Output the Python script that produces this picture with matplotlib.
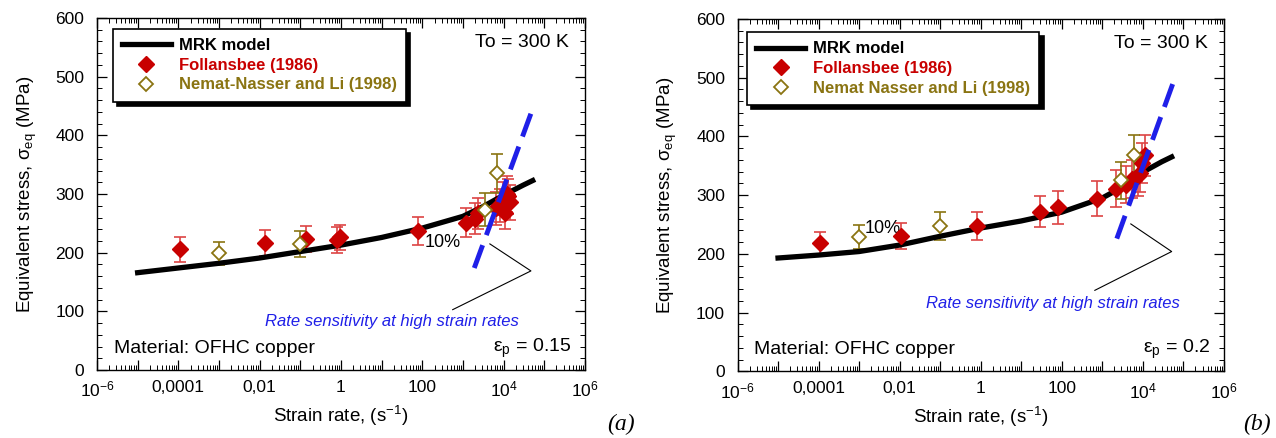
import numpy as np
import matplotlib
matplotlib.use("Agg")
import matplotlib.pyplot as plt
import matplotlib.ticker as ticker

plt.rcParams['font.family'] = ['Liberation Sans', 'DejaVu Sans']
plt.rcParams['mathtext.fontset'] = 'custom'
plt.rcParams['mathtext.rm'] = 'Liberation Sans'
plt.rcParams['mathtext.it'] = 'Liberation Sans:italic'
plt.rcParams['mathtext.bf'] = 'Liberation Sans:bold'

# --- panel (a), eps_p = 0.15 ---
curve_a_x = [1e-5, 1e-4, 1e-3, 1e-2, 1e-1, 1, 10, 100, 1000, 3000, 1e4, 3e4, 5.2e4]
curve_a_y = [166, 174, 182, 191, 202, 213, 226, 242, 262, 278, 298, 315, 323]
foll_a_x = [1.1e-4, 0.0134, 0.14, 0.8, 0.95, 78, 1200, 2000, 2300, 6500, 8000, 9500, 11000, 12000, 13000, 14500]
foll_a_y = [206, 217, 224, 222, 226, 237, 251, 258, 267, 276, 280, 292, 268, 300, 296, 286]
foll_a_e = [21, 22, 22, 22, 22, 24, 25, 26, 26, 28, 28, 28, 28, 30, 30, 30]
nn_a_x = [0.001, 0.1, 3500, 6900]
nn_a_y = [199, 215, 273, 335]
nn_a_e = [20, 22, 28, 33]
rate_a_x = [1900, 5.5e4]
rate_a_y = [174, 450]
pointer_a_x = [4600, 4.7e4, 560]
pointer_a_y = [215, 169, 103]

# --- panel (b), eps_p = 0.2 ---
curve_b_x = [1e-5, 1e-4, 1e-3, 1e-2, 1e-1, 1, 10, 100, 1000, 3000, 1e4, 3e4, 5.2e4]
curve_b_y = [193, 198, 204, 215, 230, 244, 256, 271, 295, 313, 339, 357, 365]
foll_b_x = [1.1e-4, 0.0107, 0.8, 29, 81, 750, 2200, 3800, 5400, 7600, 8500, 9500, 11200]
foll_b_y = [218, 231, 248, 272, 279, 294, 311, 318, 327, 332, 338, 355, 368]
foll_b_e = [20, 22, 24, 27, 28, 30, 31, 32, 32, 33, 33, 34, 35]
nn_b_x = [0.001, 0.1, 2900, 6200]
nn_b_y = [229, 247, 325, 368]
nn_b_e = [20, 24, 32, 35]
rate_b_x = [2300, 6.6e4]
rate_b_y = [226, 504]
pointer_b_x = [5100, 5.2e4, 660]
pointer_b_y = [251, 204, 138]

xtick_labels = {1e-6: r'10$^{-6}$', 1e-4: '0,0001', 1e-2: '0,01', 1: '1',
                100: '100', 1e4: r'10$^{4}$', 1e6: r'10$^{6}$'}

RED = '#c80000'
RED_ERR = '#dd4444'
OLIVE = '#8a7412'
BLUE = '#1f1fe8'


def fmt(v, pos):
    for k, s in xtick_labels.items():
        if abs(np.log10(v) - np.log10(k)) < 1e-6:
            return s
    return ''


def panel(ax, cx, cy, fx, fy, fe, nx, ny, ne, rx, ry, px, py,
          eps_txt, ten_xy, rate_xy, nn_label, leg_anchor):
    ax.set_xscale('log')
    ax.set_xlim(1e-6, 1e6)
    ax.set_ylim(0, 600)

    ax.errorbar(fx, fy, yerr=fe, fmt='none', ecolor=RED_ERR, elinewidth=1.2,
                capsize=4, capthick=1.2, zorder=3)
    ax.errorbar(nx, ny, yerr=ne, fmt='none', ecolor=OLIVE, elinewidth=1.2,
                capsize=4, capthick=1.2, zorder=3)
    ax.plot(cx, cy, color='black', lw=3.8, label='MRK model', zorder=4)
    ax.plot(fx, fy, 'D', color=RED, ms=8.5, ls='none', label='Follansbee (1986)', zorder=5)
    ax.plot(nx, ny, 'D', mfc='white', mec=OLIVE, mew=1.3, ms=7.5, ls='none',
            label=nn_label, zorder=5)
    ax.plot(rx, ry, color=BLUE, lw=3.5, dashes=(5, 2.2), zorder=6)
    ax.plot(px, py, color='black', lw=0.8, zorder=2)

    ax.text(ten_xy[0], ten_xy[1], '10%', fontsize=13, ha='left', va='center')
    ax.text(rate_xy[0], rate_xy[1], 'Rate sensitivity at high strain rates',
            fontsize=12, color=BLUE, style='italic', ha='center', va='center')
    ax.text(0.968, 0.93, 'To = 300 K', transform=ax.transAxes, fontsize=14,
            ha='right', va='center')
    ax.text(0.034, 0.062, 'Material: OFHC copper', transform=ax.transAxes,
            fontsize=14, ha='left', va='center')
    ax.text(0.972, 0.062, eps_txt, transform=ax.transAxes, fontsize=14,
            ha='right', va='center')

    ax.xaxis.set_major_locator(ticker.LogLocator(base=10, numticks=20))
    ax.xaxis.set_minor_locator(ticker.LogLocator(base=10, subs=np.arange(2, 10), numticks=20))
    ax.xaxis.set_major_formatter(ticker.FuncFormatter(fmt))
    ax.xaxis.set_minor_formatter(ticker.NullFormatter())
    ax.yaxis.set_major_locator(ticker.MultipleLocator(100))
    ax.yaxis.set_minor_locator(ticker.MultipleLocator(20))
    ax.tick_params(which='both', direction='in', top=True, right=True, labelsize=12.5)
    ax.tick_params(which='major', length=7, width=0.9)
    ax.tick_params(which='minor', length=3.5, width=0.7)
    ax.tick_params(axis='x', which='major', pad=7)
    ax.tick_params(axis='y', which='major', pad=9)
    for sp in ax.spines.values():
        sp.set_linewidth(1.0)

    ax.set_xlabel(r'Strain rate, (s$^{-1}$)', fontsize=13.5, labelpad=3)
    ax.set_ylabel('Equivalent stress, σ$_{\\rm eq}$ (MPa)', fontsize=13.5, labelpad=12)

    leg = ax.legend(loc='upper left', bbox_to_anchor=leg_anchor,
                    prop={'weight': 'bold', 'size': 12}, handlelength=2.9,
                    handletextpad=0.5, borderpad=0.55, labelspacing=0.28,
                    borderaxespad=0, fancybox=False, edgecolor='black', framealpha=1,
                    shadow={'color': 'black', 'alpha': 1, 'ox': 3, 'oy': -3},
                    labelcolor=['black', RED, OLIVE])
    leg.get_frame().set_linewidth(1.2)


fig = plt.figure(figsize=(12.76, 4.38), dpi=100)
ax1 = fig.add_axes([0.076, 0.155, 0.3824, 0.804])
ax2 = fig.add_axes([0.578, 0.152, 0.381, 0.805])

panel(ax1, curve_a_x, curve_a_y, foll_a_x, foll_a_y, foll_a_e, nn_a_x, nn_a_y, nn_a_e,
      rate_a_x, rate_a_y, pointer_a_x, pointer_a_y,
      'ε$_{\\rm p}$ = 0.15', (115, 218), (18, 83), 'Nemat-Nasser and Li (1998)',
      (0.033, 0.969))
panel(ax2, curve_b_x, curve_b_y, foll_b_x, foll_b_y, foll_b_e, nn_b_x, nn_b_y, nn_b_e,
      rate_b_x, rate_b_y, pointer_b_x, pointer_b_y,
      'ε$_{\\rm p}$ = 0.2', (0.0014, 243), (60, 115), 'Nemat Nasser and Li (1998)',
      (0.02, 0.962))

fig.text(0.487, 0.03, '(a)', fontsize=17, style='italic', family='Liberation Serif',
         ha='center', va='center')
fig.text(0.985, 0.03, '(b)', fontsize=17, style='italic', family='Liberation Serif',
         ha='center', va='center')

fig.savefig('out.png', dpi=100)
